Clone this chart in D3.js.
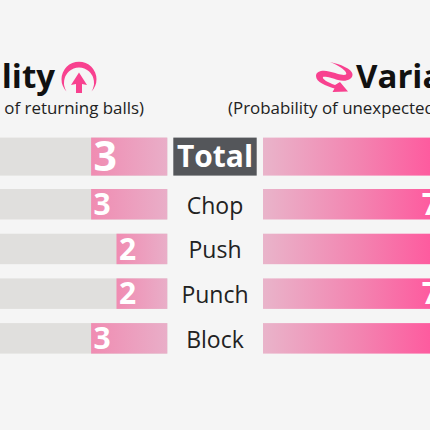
<!DOCTYPE html>
<html><head><meta charset="utf-8">
<script src="https://cdn.jsdelivr.net/npm/d3@7"></script>
<style>html,body{margin:0;padding:0;background:#f5f5f5;overflow:hidden}svg{display:block}text{font-family:"Open Sans",sans-serif}</style>
</head><body><svg id="chart" width="430" height="430"></svg>
<script>
const strokes = ["Total", "Chop", "Push", "Punch", "Block"];
const reliability = [3, 3, 2, 2, 3];
const variation = [8, 7, 8, 7, 8];
const scaleMax = 10;

const svg = d3.select("#chart");
const defs = svg.append("defs");

const leftEdge = 167.3, rightEdge = 263;
const w = d3.scaleLinear().domain([0, scaleMax]).range([0, 254]);

const leftGrad = defs.append("linearGradient").attr("id", "leftFill");
leftGrad.append("stop").attr("offset", 0).attr("stop-color", "#f08cb2");
leftGrad.append("stop").attr("offset", 1).attr("stop-color", "#e9aec8");

// every right-hand bar shares one ramp, measured in page space
const rightGrad = defs.append("linearGradient").attr("id", "rightFill")
  .attr("gradientUnits", "userSpaceOnUse").attr("x1", rightEdge).attr("x2", rightEdge + w(7));
rightGrad.append("stop").attr("offset", 0).attr("stop-color", "#e9b4ca");
rightGrad.append("stop").attr("offset", 0.55).attr("stop-color", "#f383b0");
rightGrad.append("stop").attr("offset", 1).attr("stop-color", "#ff559c");

// the four stroke rows are evenly banded; the Total row is a taller header above them
const y = d3.scaleBand().domain(strokes.slice(1)).range([189, 353.6]).paddingInner(0.318).paddingOuter(0);
const rowTop = (d, i) => i ? y(d) : 137.6;
const rowH = (d, i) => i ? y.bandwidth() : 38;
const digitSize = (d, i) => i ? 30 : 41;

const rows = svg.selectAll("g.row").data(strokes).join("g").attr("class", "row")
  .attr("transform", (d, i) => `translate(0,${rowTop(d, i)})`);

rows.append("rect").attr("x", leftEdge - w(scaleMax)).attr("width", w(scaleMax)).attr("height", rowH).attr("fill", "#e0dfdd");
rows.append("rect").attr("x", (d, i) => leftEdge - w(reliability[i])).attr("width", (d, i) => w(reliability[i]))
  .attr("height", rowH).attr("fill", "url(#leftFill)");
rows.append("rect").attr("x", rightEdge).attr("width", (d, i) => w(variation[i])).attr("height", rowH).attr("fill", "url(#rightFill)");

rows.append("text").attr("x", (d, i) => leftEdge - w(reliability[i]) + 2.5)
  .attr("y", (d, i) => rowH(d, i) / 2 + digitSize(d, i) * 0.357)
  .attr("font-size", digitSize).attr("font-weight", 700).attr("fill", "#fff").text((d, i) => reliability[i]);
rows.append("text").attr("x", (d, i) => rightEdge + w(variation[i]) - 2).attr("text-anchor", "end")
  .attr("y", (d, i) => rowH(d, i) / 2 + digitSize(d, i) * 0.357)
  .attr("font-size", digitSize).attr("font-weight", 700).attr("fill", "#fff").text((d, i) => variation[i]);

rows.filter((d, i) => i === 0).append("rect").attr("x", 173.3).attr("width", 83.4).attr("height", rowH).attr("fill", "#54565a");
rows.append("text").attr("x", 215).attr("y", (d, i) => i ? 24.5 : 29.5).attr("text-anchor", "middle")
  .attr("font-size", (d, i) => i ? 23 : 30).attr("font-weight", (d, i) => i ? 400 : 700)
  .attr("fill", (d, i) => i ? "#222" : "#fff").text(d => d);

svg.append("text").attr("x", 55).attr("y", 88).attr("text-anchor", "end").attr("font-size", 33).attr("font-weight", 700).attr("fill", "#111").text("Reliability");
svg.append("text").attr("x", 144).attr("y", 114).attr("text-anchor", "end").attr("font-size", 16.9).attr("fill", "#222").text("(Percent of returning balls)");
svg.append("text").attr("x", 356).attr("y", 88).attr("font-size", 33).attr("font-weight", 700).attr("fill", "#111").text("Variation");
svg.append("text").attr("x", 228).attr("y", 114).attr("font-size", 16.9).attr("fill", "#222").text("(Probability of unexpected returns)");

// crescent ring and up arrow beside the left heading
svg.append("path").attr("fill", "#f8418f")
  .attr("d", "M66.5,91.5A17.5,17.5 0 1 1 91.5,91.5A15,15.5 0 1 0 66.5,91.5Z");
svg.append("path").attr("fill", "#f8418f")
  .attr("d", "M79,72.5L87,85L82,84L82,93L76,93L76,84L71,85Z");

// swirling arrow beside the right heading
svg.append("path").attr("fill", "#f8418f")
  .attr("d", "M330,62C340,64 352,69 352.5,74C353,80 345,82 338,80C332,78 325,76 323,77C322,79 327,82 335,85L340,82L348,91.5L332.5,92L334.5,88.5C326,86 316,82 316,76C316,71 323,70 329,71.5C336,73 343,76 346,74.5C348,72 340,66 330,62Z");
</script></body></html>
